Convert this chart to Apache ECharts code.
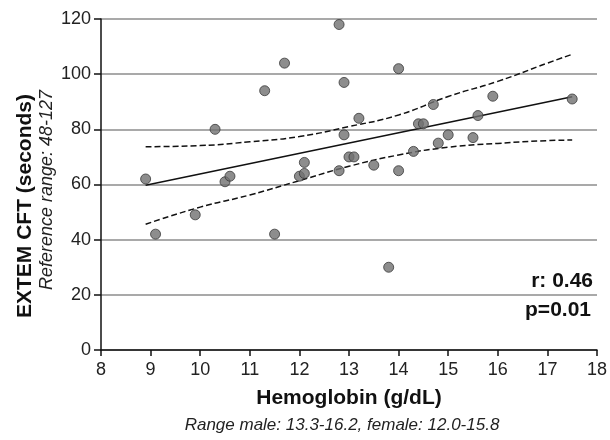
<!DOCTYPE html>
<html>
<head>
<meta charset="UTF-8">
<script src="https://cdn.jsdelivr.net/npm/echarts@6/dist/echarts.min.js"></script>
<style>
  html, body { margin: 0; padding: 0; background: #fff; }
  #main { width: 610px; height: 440px; }
</style>
</head>
<body>
<div id="main"></div>
<script>
  // hemoglobin (g/dL) vs EXTEM CFT (s)
  const hemoglobin = [8.9, 9.1, 9.9, 10.3, 10.5, 10.6, 11.3, 11.5, 11.7, 12.0, 12.1, 12.1, 12.8, 12.8, 12.9, 12.9, 13.0,
    13.1, 13.2, 13.5, 13.8, 14.0, 14.0, 14.3, 14.4, 14.5, 14.7, 14.8, 15.0, 15.5, 15.6, 15.9, 17.5];
  const cft = [62, 42, 49, 80, 61, 63, 94, 42, 104, 63, 64, 68, 118, 65, 97, 78, 70,
    70, 84, 67, 30, 102, 65, 72, 82, 82, 89, 75, 78, 77, 85, 92, 91];

  // regression line and 95% band
  const fitX = [8.9, 17.5];
  const fitY = [59.7, 91.8];
  const bandX = [8.9, 10, 11, 12, 13, 14, 15, 16, 17, 17.5];
  const upperY = [73.7, 74.1, 75.5, 77.4, 81.0, 85.2, 91.9, 97.4, 104.0, 107.2];
  const lowerY = [45.6, 51.8, 56.2, 61.4, 66.6, 70.7, 73.5, 74.9, 75.9, 76.1];

  const xTicks = [8, 9, 10, 11, 12, 13, 14, 15, 16, 17, 18];
  const yTicks = [0, 20, 40, 60, 80, 100, 120];

  const font = 'Liberation Sans, Arial, sans-serif';
  const pair = (xs, ys) => xs.map((x, i) => [x, ys[i]]);

  const chart = echarts.init(document.getElementById('main'), null, { renderer: 'canvas' });
  chart.setOption({
    animation: false,
    backgroundColor: '#fff',
    grid: { left: 101, right: 13, top: 19, bottom: 90 },
    xAxis: {
      type: 'value',
      min: xTicks[0], max: xTicks[xTicks.length - 1], interval: 1,
      axisLine: { lineStyle: { color: '#111', width: 1.5 } },
      axisTick: { show: true, length: 6, lineStyle: { color: '#111', width: 1.5 } },
      axisLabel: { color: '#222', fontSize: 18, fontFamily: font, margin: 11 },
      splitLine: { show: false }
    },
    yAxis: {
      type: 'value',
      min: yTicks[0], max: yTicks[yTicks.length - 1], interval: 20,
      axisLine: { show: true, lineStyle: { color: '#111', width: 1.5 } },
      axisTick: { show: true, length: 7, lineStyle: { color: '#111', width: 1.5 } },
      axisLabel: { color: '#222', fontSize: 18, fontFamily: font, margin: 10 },
      splitLine: { show: true, lineStyle: { color: '#8c8c8c', width: 1.6 } }
    },
    series: [
      {
        type: 'line', data: pair(bandX, upperY), smooth: true, symbol: 'none', z: 3,
        lineStyle: { color: '#111', width: 1.5, type: [6, 3] }
      },
      {
        type: 'line', data: pair(bandX, lowerY), smooth: true, symbol: 'none', z: 3,
        lineStyle: { color: '#111', width: 1.5, type: [6, 3] }
      },
      {
        type: 'line', data: pair(fitX, fitY), symbol: 'none', z: 3,
        lineStyle: { color: '#111', width: 1.5 }
      },
      {
        type: 'scatter', data: pair(hemoglobin, cft), symbolSize: 10, z: 4,
        itemStyle: { color: '#717171', borderColor: '#3a3a3a', borderWidth: 1 }
      }
    ],
    graphic: [
      {
        type: 'text', x: 25, y: 206, rotation: Math.PI / 2,
        style: { text: 'EXTEM CFT (seconds)', font: 'bold 21px ' + font, fill: '#111', align: 'center', verticalAlign: 'middle' }
      },
      {
        type: 'text', x: 47, y: 190, rotation: Math.PI / 2,
        style: { text: 'Reference range: 48-127', font: 'italic 18px ' + font, fill: '#222', align: 'center', verticalAlign: 'middle' }
      },
      {
        type: 'text', x: 349, y: 398,
        style: { text: 'Hemoglobin (g/dL)', font: 'bold 21px ' + font, fill: '#111', align: 'center', verticalAlign: 'middle' }
      },
      {
        type: 'text', x: 342, y: 425,
        style: { text: 'Range male: 13.3-16.2, female: 12.0-15.8', font: 'italic 17px ' + font, fill: '#222', align: 'center', verticalAlign: 'middle' }
      },
      {
        type: 'text', x: 593, y: 281,
        style: { text: 'r: 0.46', font: 'bold 21px ' + font, fill: '#111', align: 'right', verticalAlign: 'middle' }
      },
      {
        type: 'text', x: 591, y: 310,
        style: { text: 'p=0.01', font: 'bold 21px ' + font, fill: '#111', align: 'right', verticalAlign: 'middle' }
      }
    ]
  });
</script>
</body>
</html>
